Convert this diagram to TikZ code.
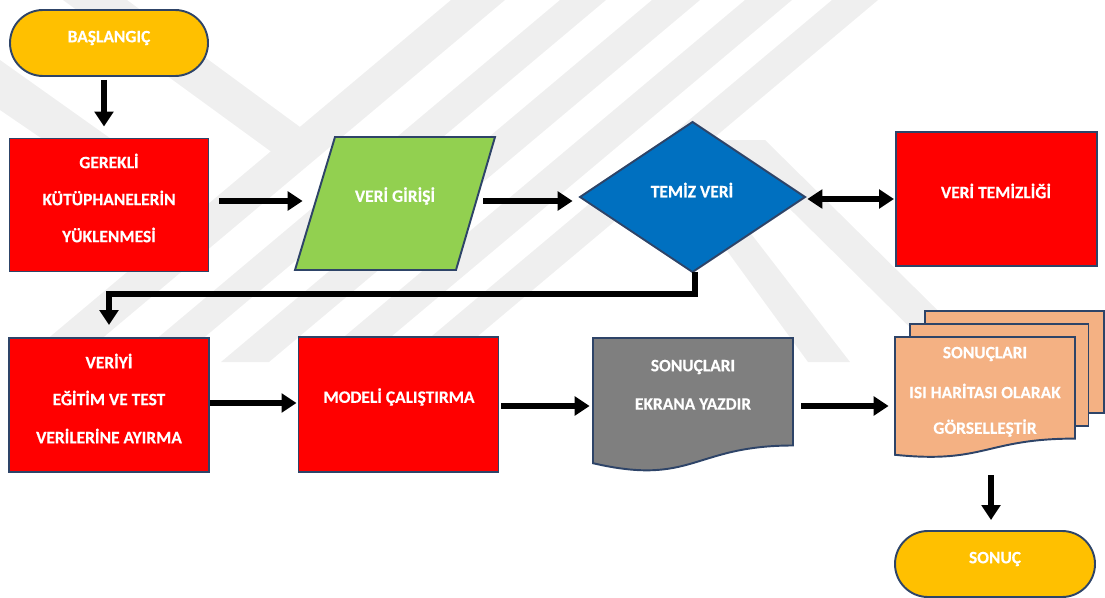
\documentclass[tikz,border=0pt]{standalone}
\usepackage{fontspec}
\setmainfont{Carlito}[BoldFeatures={FakeBold=0.3}]
\usetikzlibrary{shapes.geometric,shapes.misc,arrows.meta}
\definecolor{navy}{HTML}{2E4468}
\definecolor{wm}{HTML}{EFEFEF}
\definecolor{gold}{HTML}{FFC000}
\definecolor{redf}{HTML}{FF0000}
\definecolor{greenf}{HTML}{92D050}
\definecolor{bluef}{HTML}{0070C0}
\definecolor{grayf}{HTML}{7F7F7F}
\definecolor{peach}{HTML}{F4B183}
\tikzset{
  shp/.style={draw=navy, line width=1.1pt},
  term/.style={shp, rounded rectangle, fill=gold, inner sep=0pt},
  proc/.style={shp, rectangle, fill=redf, inner sep=0pt},
  lbl/.style={text=white, font=\bfseries\fontsize{9.9}{11}\selectfont, inner sep=0pt, align=center},
  hole/.style={rectangle, inner sep=0pt},
  arr/.style={line width=3pt, -{Triangle[length=8.5pt,width=10.5pt]}},
  darr/.style={line width=3pt, {Triangle[length=8.5pt,width=10.5pt]}-{Triangle[length=8.5pt,width=10.5pt]}},
}
\begin{document}
\begin{tikzpicture}[x=0.02cm,y=-0.02cm]
\useasboundingbox (0,0) rectangle (1105,598);
% watermark (faint background logo)
\begin{scope}
\clip (0,0) rectangle (1105,362);
\fill[wm] (451,0) -- (505,0) -- (74,362) -- (20,362) -- cycle;
\fill[wm] (560,0) -- (606,0) -- (175,362) -- (129,362) -- cycle;
\fill[wm] (652,0) -- (700,0) -- (269,362) -- (221,362) -- cycle;
\fill[wm] (745,0) -- (792,0) -- (361,362) -- (314,362) -- cycle;
\fill[wm] (832,0) -- (878,0) -- (447,362) -- (401,362) -- cycle;
\fill[wm] (63,0) -- (127,0) -- (300,127) -- (273,153) -- cycle;
\fill[wm] (0,60) -- (0,110) -- (205,250) -- (228,222) -- cycle;
\fill[wm] (720,140) -- (765,140) -- (990,362) -- (945,362) -- cycle;
\fill[wm] (690,200) -- (725,200) -- (850,362) -- (808,362) -- cycle;
\end{scope}
% nodes
\node[term, minimum width=198*0.02cm, minimum height=66*0.02cm] (start) at (109,43) {};
\node[lbl] (tstart) at (109,38) {BAŞLANGIÇ};
\node[proc, minimum width=199*0.02cm, minimum height=133*0.02cm] (libs) at (109,205) {};
\node[lbl] (tlibs1) at (109,161) {GEREKLİ};
\node[lbl] (tlibs2) at (109,198) {KÜTÜPHANELERİN};
\node[lbl] (tlibs3) at (109,235) {YÜKLENMESİ};
\fill[greenf, shp] (335,137) -- (495,137) -- (456,270) -- (295,270) -- cycle;
\node[hole, minimum width=190*0.02cm, minimum height=133*0.02cm] (inp) at (395,203.5) {};
\node[lbl] (tinp) at (395,196) {VERİ GİRİŞİ};
\fill[bluef, shp] (580,197) -- (692.5,122) -- (805,197) -- (692.5,272) -- cycle;
\node[hole, minimum width=225*0.02cm, minimum height=150*0.02cm] (dec) at (692.5,197) {};
\node[lbl] (tdec) at (692,190) {TEMİZ VERİ};
\node[proc, minimum width=201*0.02cm, minimum height=134*0.02cm] (clean) at (996.5,199) {};
\node[lbl] (tclean) at (996,191) {VERİ TEMİZLİĞİ};
\node[proc, minimum width=200*0.02cm, minimum height=134*0.02cm] (split) at (109,405) {};
\node[lbl] (tsplit1) at (109,361) {VERİYİ};
\node[lbl] (tsplit2) at (109,398) {EĞİTİM VE TEST};
\node[lbl] (tsplit3) at (109,436) {VERİLERİNE AYIRMA};
\node[proc, minimum width=200*0.02cm, minimum height=135*0.02cm] (model) at (398.5,404.5) {};
\node[lbl] (tmodel) at (399,397) {MODELİ ÇALIŞTIRMA};
\fill[grayf, shp] (593,338) -- (793,338) -- (793,445.5) .. controls (693,445.5) and (693,486.4) .. (593,463.2) -- cycle;
\node[hole, minimum width=200*0.02cm, minimum height=136*0.02cm] (doc) at (693,406) {};
\node[lbl] (tdoc1) at (693,367) {SONUÇLARI};
\node[lbl] (tdoc2) at (693,404) {EKRANA YAZDIR};
\fill[peach, shp] (925,311) rectangle (1104,413);
\fill[peach, shp] (910,324) rectangle (1088.5,426);
\fill[peach, shp] (895,337) -- (1075,337) -- (1075,438.6) .. controls (985,438.6) and (985,464) .. (895,454.8) -- cycle;
\node[hole, minimum width=190*0.02cm, minimum height=138*0.02cm] (heat) at (988,406) {};
\node[lbl] (theat1) at (985,354) {SONUÇLARI};
\node[lbl] (theat2) at (985,391) {ISI HARİTASI OLARAK};
\node[lbl] (theat3) at (985,428) {GÖRSELLEŞTİR};
\node[term, minimum width=200*0.02cm, minimum height=66*0.02cm] (end) at (995,564) {};
\node[lbl] (tend) at (995,559) {SONUÇ};
% connectors
\draw[arr, shorten <=3*0.02cm, shorten >=11*0.02cm] (start.south -| 104,0) -- (libs.north -| 104,0);
\draw[arr, shorten <=10*0.02cm, shorten >=-3*0.02cm] (libs.east |- 0,201) -- (inp.west |- 0,201);
\draw[arr, shorten <=-7*0.02cm, shorten >=7*0.02cm] (inp.east |- 0,201) -- (dec.west |- 0,201);
\draw[darr, shorten <=2*0.02cm, shorten >=1*0.02cm] (dec.east |- 0,199) -- (clean.west |- 0,199);
\draw[arr, shorten >=12*0.02cm] (dec.south -| 695,0) -- (695,294) -- (109,294) -- (split.north -| 109,0);
\draw[arr, shorten >=1*0.02cm] (split.east |- 0,403) -- (model.west |- 0,403);
\draw[arr, shorten <=2*0.02cm, shorten >=3*0.02cm] (model.east |- 0,406) -- (doc.west |- 0,406);
\draw[arr, shorten <=8*0.02cm, shorten >=4*0.02cm] (doc.east |- 0,406) -- (heat.west |- 0,406);
\draw[arr, shorten >=10*0.02cm] (heat.south -| 991,0) -- (end.north -| 991,0);
\end{tikzpicture}
\end{document}
